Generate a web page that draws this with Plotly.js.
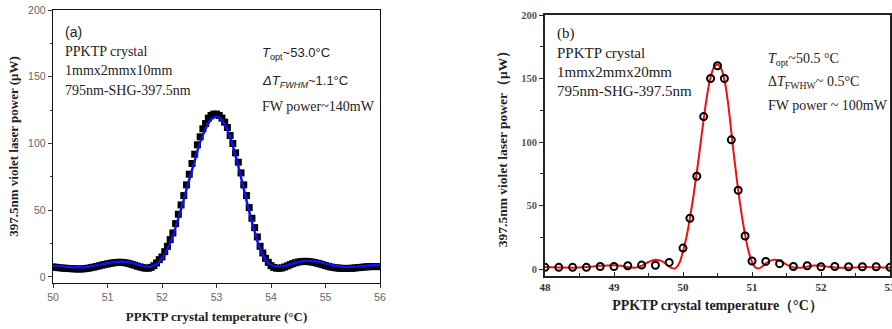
<!DOCTYPE html>
<html><head><meta charset="utf-8">
<script src="https://cdn.plot.ly/plotly-3.0.1.min.js"></script>
<style>html,body{margin:0;padding:0;background:#fff;overflow:hidden}</style>
</head><body><div id="chart" style="width:892px;height:329px"></div>
<script>
// ---------- Panel (a): 10 mm crystal ----------
const tempA = [50.00,50.05,50.10,50.15,50.20,50.25,50.30,50.35,50.40,50.45,
  50.50,50.55,50.60,50.65,50.70,50.75,50.80,50.85,50.90,50.95,
  51.00,51.05,51.10,51.15,51.20,51.25,51.30,51.35,51.40,51.45,
  51.50,51.55,51.60,51.65,51.70,51.75,51.80,51.85,51.90,51.95,
  52.00,52.05,52.10,52.15,52.20,52.25,52.30,52.35,52.40,52.45,
  52.50,52.55,52.60,52.65,52.70,52.75,52.80,52.85,52.90,52.95,
  53.00,53.05,53.10,53.15,53.20,53.25,53.30,53.35,53.40,53.45,
  53.50,53.55,53.60,53.65,53.70,53.75,53.80,53.85,53.90,53.95,
  54.00,54.05,54.10,54.15,54.20,54.25,54.30,54.35,54.40,54.45,
  54.50,54.55,54.60,54.65,54.70,54.75,54.80,54.85,54.90,54.95,
  55.00,55.05,55.10,55.15,55.20,55.25,55.30,55.35,55.40,55.45,
  55.50,55.55,55.60,55.65,55.70,55.75,55.80,55.85,55.90,55.95,56.00];
const powerA = [7.5,7.3,7.0,6.8,6.6,6.5,6.3,6.2,6.1,6.0,
  6.0,6.1,6.3,6.6,7.0,7.4,7.9,8.4,8.9,9.4,
  9.8,10.2,10.6,10.8,11.0,11.0,10.8,10.5,10.0,9.4,
  8.8,8.1,7.5,7.0,6.6,6.6,7.2,8.5,10.5,13.0,
  15,19,23,28,33,40,47,54,61,69,
  77,85,92,99,105,111,115,119,121,122,
  122,121,119,116,112,106,100,93,86,78,
  69,61,52,44,37,30,23,18,14,11,
  8.5,7.2,6.6,6.5,6.8,7.5,8.3,9.2,10.0,10.7,
  11.2,11.5,11.7,11.7,11.5,11.2,10.8,10.3,9.8,9.2,
  8.6,8.0,7.5,7.1,6.8,6.6,6.5,6.4,6.4,6.5,
  6.6,6.8,7.0,7.2,7.4,7.6,7.7,7.8,7.8,7.8,7.8];
const fitTempA = [50.0,50.1,50.2,50.3,50.4,50.5,50.6,50.7,50.8,50.9,
  51.0,51.1,51.2,51.3,51.4,51.5,51.6,51.7,51.8,51.9,
  52.0,52.1,52.2,52.3,52.4,52.5,52.6,52.7,52.8,52.9,
  53.0,53.1,53.2,53.3,53.4,53.5,53.6,53.7,53.8,53.9,
  54.0,54.1,54.2,54.3,54.4,54.5,54.6,54.7,54.8,54.9,
  55.0,55.1,55.2,55.3,55.4,55.5,55.6,55.7,55.8,55.9,56.0];
const fitPowerA = [8.5,8.2,7.8,7.5,7.3,7.3,7.5,8.0,8.7,9.5,
  10.3,11.0,11.5,11.5,11.0,10.0,8.8,7.8,7.8,9.5,
  14,21,31,44,58,73,87,101,111,118,
  120,117.5,110,98,83,66,49,34,21,13,
  9,8,8,8.8,10,11.2,12,12.2,11.8,11,
  10,9,8.2,7.7,7.5,7.6,7.9,8.3,8.6,8.8,8.8];
const ticksA_x = [50,51,52,53,54,55,56];
const ticksA_y = [0,50,100,150,200];

// ---------- Panel (b): 20 mm crystal ----------
const tempB = [48.0,48.2,48.4,48.6,48.8,49.0,49.2,49.4,49.6,49.8,
  50.0,50.1,50.2,50.3,50.4,50.5,50.6,50.7,50.8,50.9,
  51.0,51.2,51.4,51.6,51.8,52.0,52.2,52.4,52.6,52.8,53.0];
const powerB = [1.3,1.3,1.3,1.3,2.0,2.0,2.6,3.1,3.0,5.2,
  16.5,40,73,120,150,160,150,101.7,62,26,
  6.3,6.0,4.2,2.0,2.6,1.8,2.0,1.8,1.8,1.8,1.3];
const fitTempB = [48.0,48.2,48.4,48.6,48.8,49.0,49.1,49.2,49.3,49.4,
  49.5,49.6,49.7,49.8,49.85,49.9,49.95,50.0,50.05,50.1,
  50.15,50.2,50.25,50.3,50.35,50.4,50.45,50.5,50.55,50.6,
  50.65,50.7,50.75,50.8,50.85,50.9,50.95,51.0,51.05,51.1,
  51.15,51.2,51.3,51.4,51.5,51.6,51.7,51.8,51.9,52.0,
  52.1,52.2,52.4,52.6,52.8,53.0];
const fitPowerB = [1.5,1.2,1.0,1.5,2.5,3.0,2.5,1.5,1.0,2.5,
  5.5,7.3,6.0,2.0,0.5,1.0,5,14,25,40,
  57,76,97,118,137,151,159,161,158,149,
  132,108,84,62,43,27,14,5.5,1.2,0.5,
  2,4.5,7.2,6.5,3.5,1.2,1.0,2.0,2.8,2.5,
  1.8,1.2,1.0,1.5,1.3,1.0];
const ticksB_x = [48,49,50,51,52,53];
const ticksB_y = [0,50,100,150,200];

// ---------- layout helpers ----------
const W = 892, H = 329;
const px = v => v / W;
const py = v => 1 - v / H;
const SERIF = 'Liberation Serif, Times New Roman, serif';
const SANS = 'Liberation Sans, Arial, sans-serif';

const traces = [
  {x: tempA, y: powerA, xaxis: 'x', yaxis: 'y', mode: 'markers', type: 'scatter',
   marker: {symbol: 'square', size: 7, color: '#000'}, name: 'data (a)'},
  {x: fitTempA, y: fitPowerA, xaxis: 'x', yaxis: 'y', mode: 'lines', type: 'scatter',
   line: {color: '#1010f0', width: 2.5, shape: 'spline', smoothing: 1}, name: 'fit (a)'},
  {x: fitTempB, y: fitPowerB, xaxis: 'x2', yaxis: 'y2', mode: 'lines', type: 'scatter',
   line: {color: '#f01010', width: 2, shape: 'spline', smoothing: 1}, name: 'fit (b)'},
  {x: tempB, y: powerB, xaxis: 'x2', yaxis: 'y2', mode: 'markers', type: 'scatter',
   marker: {symbol: 'circle-open', size: 7, color: '#000', line: {width: 2, color: '#000'}}, name: 'data (b)'}
];

function ann(x, y, text, font, anchor) {
  return {xref: 'paper', yref: 'paper', x: px(x), y: py(y), text: text, showarrow: false,
    xanchor: anchor || 'left', yanchor: 'middle', font: font};
}
const fA = {family: SERIF, size: 14, color: '#222'};
const fAs = {family: SANS, size: 13, color: '#222'};
const fB = {family: SERIF, size: 15, color: '#222'};
const fB2 = {family: SERIF, size: 14, color: '#222'};

const layout = {
  width: W, height: H, margin: {l: 0, r: 0, t: 0, b: 0},
  paper_bgcolor: '#fff', plot_bgcolor: '#fff', showlegend: false,
  xaxis: {domain: [px(53), px(380)], range: [50, 56], anchor: 'y',
    tickvals: ticksA_x, ticks: 'outside', ticklen: 4, tickcolor: '#333',
    showline: true, linecolor: '#111', linewidth: 1.3, mirror: true,
    showgrid: false, zeroline: false,
    tickfont: {family: SANS, size: 10.5, color: '#666'},
    title: {text: '<b>PPKTP crystal temperature (°C)</b>', standoff: 10,
      font: {family: SERIF, size: 13, color: '#222'}}},
  yaxis: {domain: [py(283), py(10)], range: [-4.5, 200], anchor: 'x',
    tickvals: ticksA_y, ticks: 'outside', ticklen: 4, tickcolor: '#333',
    minor: {ticks: 'outside', dtick: 25, ticklen: 2, tickcolor: '#333'},
    showline: true, linecolor: '#111', linewidth: 1.3, mirror: true,
    showgrid: false, zeroline: false,
    tickfont: {family: SANS, size: 10.5, color: '#666'},
    title: {text: '<b>397.5nm violet laser power (μW)</b>', standoff: 6,
      font: {family: SERIF, size: 13, color: '#222'}}},
  xaxis2: {domain: [px(545), px(890)], range: [48, 53], anchor: 'y2',
    tickvals: ticksB_x, ticks: 'inside', ticklen: 4, tickcolor: '#222',
    ticklabeloverflow: 'allow',
    minor: {ticks: 'inside', dtick: 0.5, ticklen: 3, tickcolor: '#222'},
    showline: true, linecolor: '#222', linewidth: 2, mirror: true,
    showgrid: false, zeroline: false,
    tickfont: {family: SERIF, size: 11, color: '#333', weight: 'bold'},
    title: {text: '<b>PPKTP crystal temperature（°C）</b>', standoff: 8,
      font: {family: SERIF, size: 14, color: '#222'}}},
  yaxis2: {domain: [py(276), py(15)], range: [-5.5, 200], anchor: 'x2',
    tickvals: ticksB_y, ticks: 'outside', ticklen: 4, tickcolor: '#222',
    minor: {ticks: 'outside', dtick: 25, ticklen: 3, tickcolor: '#222'},
    showline: true, linecolor: '#222', linewidth: 2, mirror: true,
    showgrid: false, zeroline: false,
    tickfont: {family: SERIF, size: 10.5, color: '#555', weight: 'bold'},
    title: {text: '<b>397.5nm violet laser power（μW）</b>', standoff: 10,
      font: {family: SERIF, size: 13.5, color: '#222'}}},
  annotations: [
    ann(63, 32, '(a)', {family: SANS, size: 14, color: '#222'}),
    ann(63, 51, 'PPKTP crystal', fA),
    ann(63, 71, '1mmx2mmx10mm', fA),
    ann(63, 90, '795nm-SHG-397.5nm', fA),
    ann(260, 53, '<i>T</i><sub>opt</sub>~53.0°C', fAs),
    ann(260, 81, '<i>ΔT</i><sub><i>FWHM</i></sub>~1.1°C', fAs),
    ann(260, 106, 'FW power~140mW', fA),
    ann(555, 34, '(b)', fB),
    ann(555, 53, 'PPKTP crystal', fB),
    ann(555, 72, '1mmx2mmx20mm', fB),
    ann(555, 91, '795nm-SHG-397.5nm', fB),
    ann(766, 59, '<i>T</i><sub>opt</sub>~50.5 °C', fB2),
    ann(766, 82, 'Δ<i>T</i><sub>FWHW</sub>~ 0.5°C', fB2),
    ann(766, 105, 'FW power ~ 100mW', fB2)
  ]
};

Plotly.newPlot('chart', traces, layout, {staticPlot: true, displayModeBar: false});
</script></body></html>
